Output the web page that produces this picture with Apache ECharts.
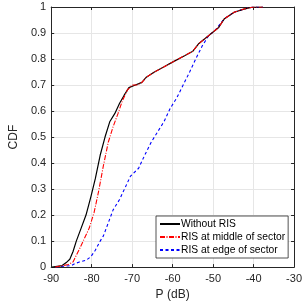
<!DOCTYPE html>
<html><head><meta charset="utf-8">
<script src="https://cdn.jsdelivr.net/npm/echarts@6/dist/echarts.min.js"></script>
<style>html,body{margin:0;padding:0;background:#fff}#c{width:305px;height:306px}</style>
</head><body><div id="c"></div>
<script>
var xTicks = [-90, -80, -70, -60, -50, -40, -30];
var yTicks = [0, 0.1, 0.2, 0.3, 0.4, 0.5, 0.6, 0.7, 0.8, 0.9, 1];
var seriesNames = ['Without RIS', 'RIS at middle of sector', 'RIS at edge of sector'];

var pWithout = [-89.8, -87.3, -86.1, -85.4, -84.6, -83.8, -82.6, -81.4, -80.2, -79.1, -77.9, -76.7, -75.5, -74.3, -73.1, -72.0, -70.8, -69.2, -67.6, -66.5, -64.5, -62.1, -59.8, -57.4, -55.0, -53.5, -51.9, -50.3, -48.7, -47.2, -44.8, -42.4, -40.1, -37.7];
var cdfWithout = [0, 0.006, 0.02, 0.03, 0.06, 0.1, 0.15, 0.2, 0.27, 0.34, 0.43, 0.5, 0.56, 0.59, 0.63, 0.66, 0.69, 0.70, 0.71, 0.73, 0.75, 0.77, 0.79, 0.81, 0.83, 0.86, 0.88, 0.90, 0.92, 0.955, 0.98, 0.992, 1.0, 1.0];

var pMiddle = [-89.0, -88.1, -85.7, -84.6, -83.8, -83.0, -81.8, -80.6, -79.4, -78.3, -77.1, -75.9, -74.7, -73.5, -72.4, -71.2, -70.0, -68.8, -67.6, -66.5, -64.5, -62.1, -59.8, -57.4, -55.0, -53.5, -51.9, -50.3, -48.7, -47.2, -44.8, -42.4, -40.1, -37.7];
var cdfMiddle = [0, 0.003, 0.01, 0.02, 0.045, 0.07, 0.11, 0.15, 0.21, 0.29, 0.39, 0.48, 0.54, 0.59, 0.64, 0.68, 0.70, 0.70, 0.71, 0.73, 0.75, 0.77, 0.79, 0.81, 0.83, 0.86, 0.88, 0.90, 0.92, 0.955, 0.98, 0.992, 1.0, 1.0];

var pEdge = [-88.9, -85.0, -84.2, -83.0, -81.4, -80.2, -79.1, -77.9, -77.1, -75.9, -74.7, -73.1, -71.6, -70.4, -68.4, -66.9, -65.3, -63.7, -62.1, -60.6, -59.0, -57.4, -55.8, -54.3, -52.7, -51.1, -49.5, -48.0, -47.2, -44.8, -42.4, -40.1, -37.7];
var cdfEdge = [0, 0.006, 0.013, 0.02, 0.026, 0.04, 0.065, 0.1, 0.12, 0.17, 0.22, 0.26, 0.31, 0.35, 0.38, 0.43, 0.48, 0.52, 0.56, 0.61, 0.65, 0.70, 0.75, 0.80, 0.85, 0.89, 0.91, 0.94, 0.955, 0.98, 0.992, 1.0, 1.0];

function zip(a, b) { return a.map(function (v, i) { return [v, b[i]]; }); }

var axisCol = '#262626';
var font = 'Arial, "Liberation Sans", sans-serif';
var chart = echarts.init(document.getElementById('c'), null, {renderer: 'canvas'});
function baseX(pos, labels) {
  return {type: 'value', position: pos, min: xTicks[0], max: xTicks[xTicks.length - 1], interval: 10,
    axisLine: {show: true, onZero: false, lineStyle: {color: axisCol, width: 1}},
    axisTick: {show: true, inside: true, length: 3, lineStyle: {color: axisCol}},
    axisLabel: {show: labels, color: axisCol, fontSize: 11, fontFamily: font, margin: 6},
    splitLine: {show: labels, lineStyle: {color: '#e6e6e6', width: 1}},
    name: labels ? 'P (dB)' : '', nameLocation: 'middle', nameGap: 12,
    nameTextStyle: {color: axisCol, fontSize: 12, fontFamily: font}};
}
function baseY(pos, labels) {
  return {type: 'value', position: pos, min: 0, max: 1, interval: 0.1,
    axisLine: {show: true, onZero: false, lineStyle: {color: axisCol, width: 1}},
    axisTick: {show: true, inside: true, length: 3, lineStyle: {color: axisCol}},
    axisLabel: {show: labels, color: axisCol, fontSize: 11, fontFamily: font, margin: 5,
      formatter: function (v) { return String(Math.round(v * 10) / 10); }},
    splitLine: {show: labels, lineStyle: {color: '#e6e6e6', width: 1}},
    name: labels ? 'CDF' : '', nameLocation: 'middle', nameGap: 29, nameRotate: 90,
    nameTextStyle: {color: axisCol, fontSize: 12, fontFamily: font}};
}
chart.setOption({
  animation: false,
  backgroundColor: '#fff',
  grid: {left: 42, right: 9, top: 7, bottom: 38},
  xAxis: [baseX('bottom', true), baseX('top', false)],
  yAxis: [baseY('left', true), baseY('right', false)],
  legend: {
    left: 156, top: 216, orient: 'vertical', itemGap: 3, itemWidth: 20, itemHeight: 10,
    padding: [3, 3, 3, 3], borderColor: '#262626', borderWidth: 0.8, backgroundColor: '#fff',
    itemStyle: {opacity: 0},
    textStyle: {color: '#000', fontSize: 10.3, fontFamily: font, padding: [0, 0, 0, -4]},
    data: seriesNames
  },
  series: [
    {name: seriesNames[0], type: 'line', symbol: 'none', data: zip(pWithout, cdfWithout),
      lineStyle: {color: '#000', width: 1.2}, itemStyle: {color: '#000'}, z: 3},
    {name: seriesNames[1], type: 'line', symbol: 'none', data: zip(pMiddle, cdfMiddle),
      lineStyle: {color: '#ff0000', width: 1.1, type: [5, 1.5, 1, 1.5]}, itemStyle: {color: '#ff0000'}, z: 4},
    {name: seriesNames[2], type: 'line', symbol: 'none', data: zip(pEdge, cdfEdge),
      lineStyle: {color: '#0000ff', width: 1.1, type: [3, 2.5]}, itemStyle: {color: '#0000ff'}, z: 2}
  ]
});
</script></body></html>
